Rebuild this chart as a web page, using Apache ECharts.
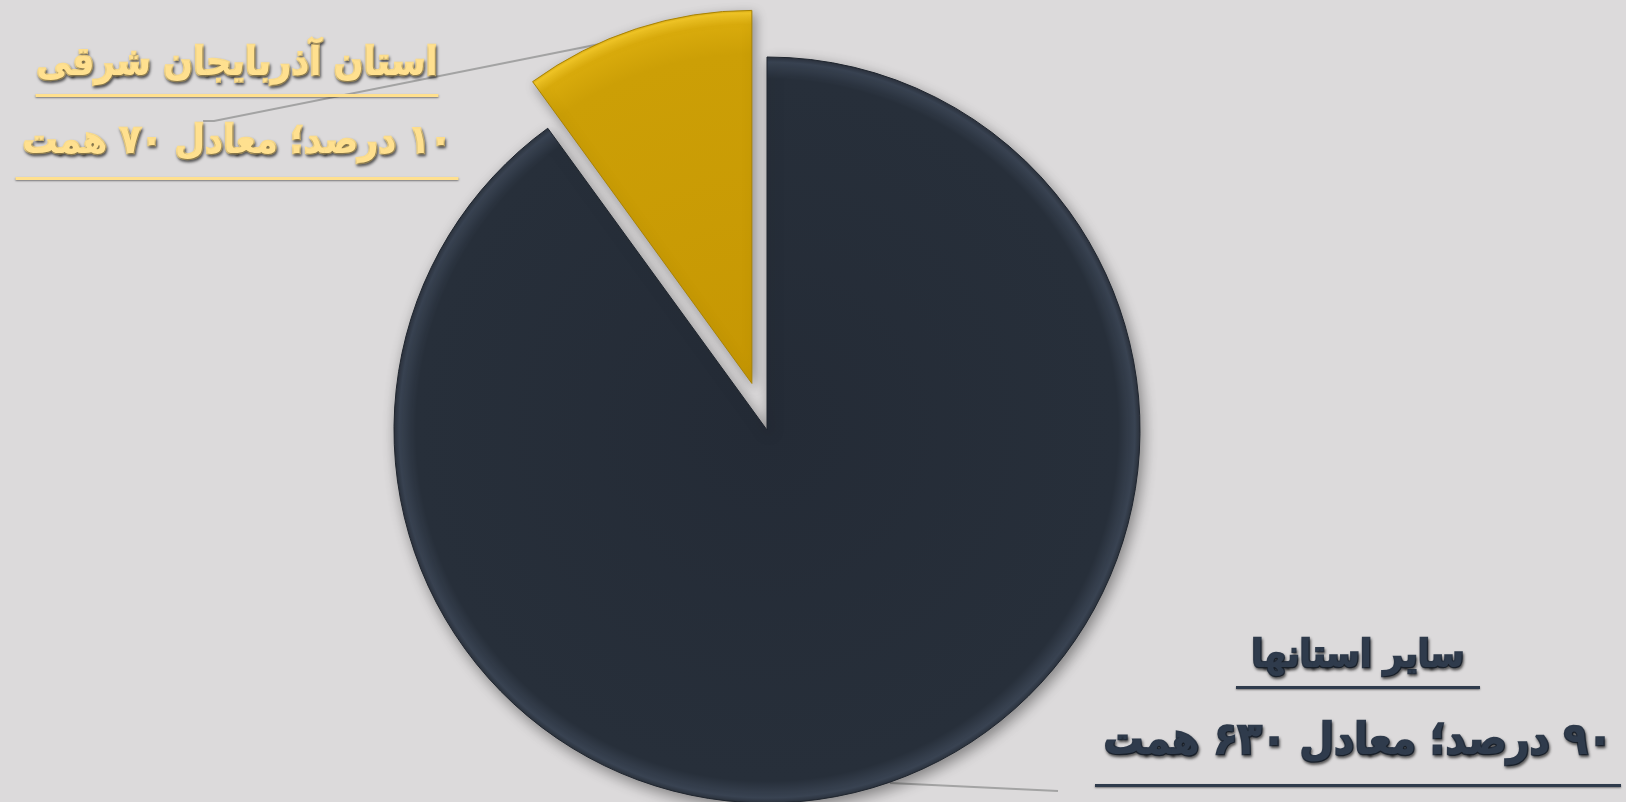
<!DOCTYPE html>
<html>
<head>
<meta charset="utf-8">
<script src="https://cdn.jsdelivr.net/npm/echarts@6/dist/echarts.min.js"></script>
<style>
html,body{margin:0;padding:0;background:#dcdadb;}
#c{width:1626px;height:802px;}
</style>
</head>
<body>
<div id="c"></div>
<script>
// ---- data ----
const categories = ['استان آذربایجان شرقی', 'سایر استانها'];
const percents = [10, 90];
const amounts = [70, 630];
const unit = 'همت';

const toFa = n => String(n).replace(/\d/g, d => '۰۱۲۳۴۵۶۷۸۹'[d]);
const RLE = '\u202B', PDF = '\u202C';
const valueText = i => RLE + toFa(percents[i]) + ' درصد؛ معادل ' + toFa(amounts[i]) + ' ' + unit + PDF;

const chart = echarts.init(document.getElementById('c'));

const C = [767, 430], R = 373, OFF = 49;
const total = amounts.reduce((a, b) => a + b, 0);
const goldSpan = 360 * amounts[0] / total;
const mid = (90 + goldSpan / 2) * Math.PI / 180;
const C2 = [C[0] + Math.cos(mid) * OFF, C[1] - Math.sin(mid) * OFF];

const GOLD_TEXT = '#ffe08f';
const DARK_TEXT = '#2f3b4c';
const FONT = '"DejaVu Sans Condensed", "DejaVu Sans", sans-serif';

const shadowText = {
  textShadowColor: 'rgba(0,0,0,0.55)',
  textShadowBlur: 3,
  textShadowOffsetX: 1,
  textShadowOffsetY: 2
};
const lineShadow = { shadowColor: 'rgba(0,0,0,0.45)', shadowBlur: 2, shadowOffsetY: 1 };

const darkFill = {
  type: 'radial', x: 0.5, y: 0.5, r: 0.5,
  colorStops: [
    { offset: 0, color: '#242b36' },
    { offset: 0.94, color: '#272f3a' },
    { offset: 0.985, color: '#3a4453' },
    { offset: 1, color: '#2a313c' }
  ]
};
const goldFill = {
  type: 'radial', x: 1, y: 1, r: 1 / Math.sin(goldSpan * Math.PI / 180),
  colorStops: [
    { offset: 0, color: '#c69703' },
    { offset: 0.88, color: '#cc9f06' },
    { offset: 0.96, color: '#d9ab0c' },
    { offset: 0.99, color: '#f3c726' },
    { offset: 1, color: '#d4a50a' }
  ]
};

const transparentItem = (v, n) => ({
  value: v, name: n,
  itemStyle: { color: 'rgba(0,0,0,0)', borderWidth: 0, shadowBlur: 0 },
  label: { show: false }, labelLine: { show: false },
  emphasis: { disabled: true }
});

const textBase = (color) => ({ fontFamily: FONT, fontWeight: 'bold', color, textBorderColor: color, textBorderWidth: 2.5 });

const option = {
  backgroundColor: '#dcdadb',
  animation: false,
  series: [
    {
      type: 'pie',
      center: C, radius: R,
      startAngle: 90, clockwise: false,
      avoidLabelOverlap: false,
      silent: true,
      itemStyle: {
        color: darkFill, borderColor: '#1f252e', borderWidth: 1,
        shadowColor: 'rgba(0,0,0,0.4)', shadowBlur: 14, shadowOffsetX: 3, shadowOffsetY: 5
      },
      label: {
        show: true, position: 'outside',
        ...textBase(DARK_TEXT),
        ...shadowText,
        formatter: () => `{a|${categories[1]}}\n{ua| }\n{s| }\n{b|${valueText(1)}}\n{ub| }`,
        rich: {
          a: { ...textBase(DARK_TEXT), fontSize: 38, lineHeight: 58 },
          ua: { width: 244, height: 3, lineHeight: 3, backgroundColor: DARK_TEXT, ...lineShadow },
          s: { height: 12, lineHeight: 12, fontSize: 10 },
          b: { ...textBase(DARK_TEXT), fontSize: 44, lineHeight: 83 },
          ub: { width: 526, height: 3, lineHeight: 3, backgroundColor: DARK_TEXT, ...lineShadow }
        }
      },
      labelLine: { show: true, lineStyle: { color: '#a3a3a3', width: 2 } },
      labelLayout: p => ({
        x: 1358, y: 628, align: 'center', verticalAlign: 'top',
        labelLinePoints: [[890, 783], [1058, 791]]
      }),
      data: [
        transparentItem(amounts[0], categories[0]),
        { value: amounts[1], name: categories[1] }
      ]
    },
    {
      type: 'pie',
      center: C2, radius: R,
      startAngle: 90, clockwise: false,
      avoidLabelOverlap: false,
      silent: true,
      itemStyle: {
        color: goldFill, borderColor: '#a98304', borderWidth: 1,
        shadowColor: 'rgba(0,0,0,0.35)', shadowBlur: 12, shadowOffsetX: 3, shadowOffsetY: 4
      },
      label: {
        show: true, position: 'outside',
        ...textBase(GOLD_TEXT),
        ...shadowText,
        formatter: () => `{a|${categories[0]}}\n{ua| }\n{s| }\n{b|${valueText(0)}}\n{ub| }`,
        rich: {
          a: { ...textBase(GOLD_TEXT), fontSize: 39, lineHeight: 58 },
          ua: { width: 403, height: 3, lineHeight: 3, backgroundColor: GOLD_TEXT, ...lineShadow },
          s: { height: 12, lineHeight: 12, fontSize: 10 },
          b: { ...textBase(GOLD_TEXT), fontSize: 39, lineHeight: 68 },
          ub: { width: 443, height: 3, lineHeight: 3, backgroundColor: GOLD_TEXT, ...lineShadow }
        }
      },
      labelLine: { show: true, lineStyle: { color: '#a3a3a3', width: 2 } },
      labelLayout: p => ({
        x: 237, y: 36, align: 'center', verticalAlign: 'top',
        labelLinePoints: [[640, 36], [214, 121], [203, 121]]
      }),
      data: [
        { value: amounts[0], name: categories[0] },
        transparentItem(amounts[1], categories[1])
      ]
    }
  ]
};
chart.setOption(option);
</script>
</body>
</html>
